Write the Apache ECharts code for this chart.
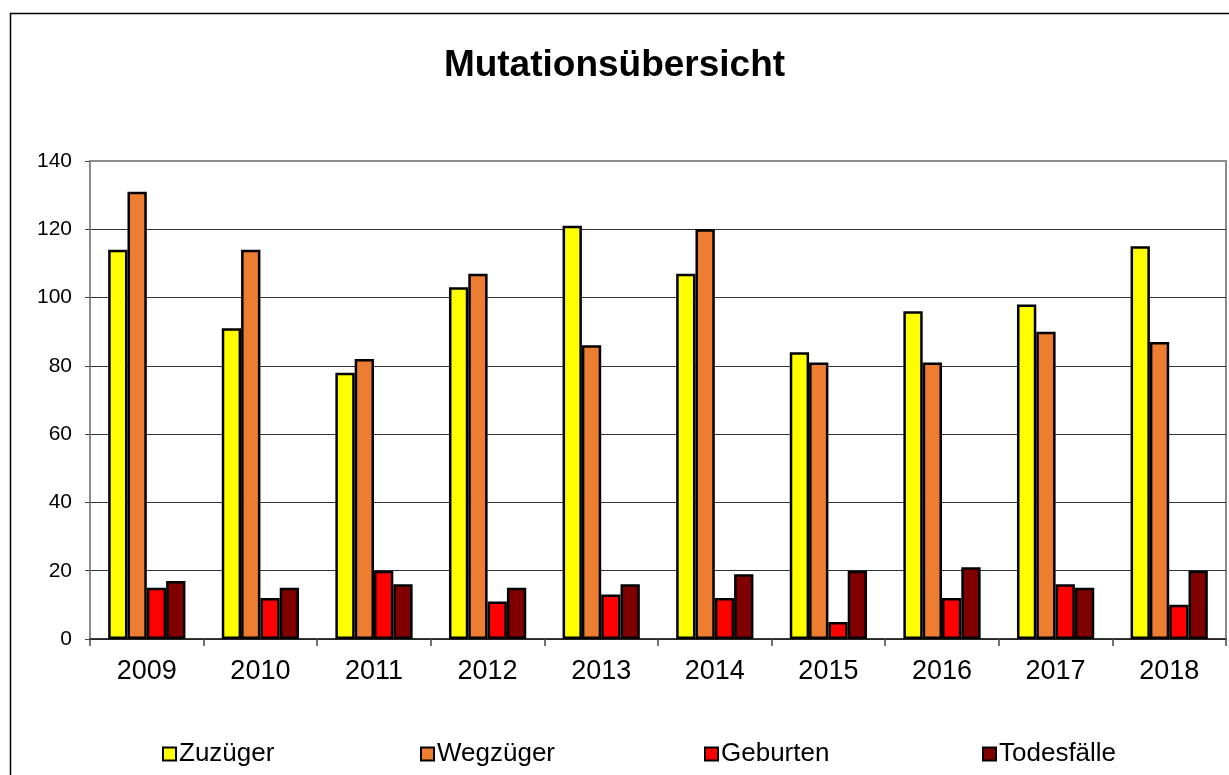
<!DOCTYPE html>
<html>
<head>
<meta charset="utf-8">
<script src="https://cdn.jsdelivr.net/npm/echarts@6/dist/echarts.min.js"></script>
<style>html,body{margin:0;padding:0;background:#fff;}#c{width:1229px;height:775px;}</style>
</head>
<body>
<div id="c"></div>
<script>
const years = ['2009','2010','2011','2012','2013','2014','2015','2016','2017','2018'];
const zuzueger = [114, 91, 78, 103, 121, 107, 84, 96, 98, 115];
const wegzueger = [131, 114, 82, 107, 86, 120, 81, 81, 90, 87];
const geburten = [15, 12, 20, 11, 13, 12, 5, 12, 16, 10];
const todesfaelle = [17, 15, 16, 15, 16, 19, 20, 21, 15, 20];
const seriesNames = ['Zuzüger', 'Wegzüger', 'Geburten', 'Todesfälle'];
const seriesColors = ['#FFFF00', '#ED7D31', '#FF0000', '#800000'];
const seriesData = [zuzueger, wegzueger, geburten, todesfaelle];
const legendLefts = [157, 415, 699, 977];

const font = '"Liberation Sans", Arial, sans-serif';
const chart = echarts.init(document.getElementById('c'), null, {renderer: 'canvas'});

const legends = seriesNames.map((n, i) => ({
  data: [n],
  left: legendLefts[i],
  top: 736,
  orient: 'horizontal',
  itemWidth: 13,
  itemHeight: 13,
  itemGap: 6,
  icon: 'rect',
  textStyle: {fontFamily: font, fontSize: 26, color: '#000', padding: [0, 0, 0, -2]},
  itemStyle: {borderColor: '#000', borderWidth: 2}
}));

chart.setOption({
  animation: false,
  backgroundColor: '#fff',
  textStyle: {fontFamily: font},
  title: {
    text: 'Mutationsübersicht',
    left: 'center',
    top: 42,
    textStyle: {fontFamily: font, fontSize: 37, fontWeight: 'bold', color: '#000'}
  },
  graphic: [{
    type: 'rect',
    shape: {x: 10.5, y: 13.5, width: 1250, height: 800},
    style: {fill: null, stroke: '#000', lineWidth: 1.5},
    silent: true,
    z: -10
  }],
  legend: legends,
  grid: {
    left: 90, right: 3, top: 161, bottom: 136,
    show: true, borderColor: '#8c8c8c', borderWidth: 2, backgroundColor: 'transparent'
  },
  xAxis: {
    type: 'category',
    data: years,
    axisLine: {lineStyle: {color: '#222', width: 1.5}},
    axisTick: {show: true, length: 7, lineStyle: {color: '#444', width: 1.5}},
    axisLabel: {fontFamily: font, fontSize: 27, color: '#000', margin: 19}
  },
  yAxis: {
    type: 'value',
    min: 0, max: 140, interval: 20,
    axisLine: {show: true, lineStyle: {color: '#8c8c8c', width: 2}},
    axisTick: {show: true, length: 5, lineStyle: {color: '#444'}},
    axisLabel: {fontFamily: font, fontSize: 21, color: '#000', margin: 18},
    splitLine: {show: true, showMaxLine: false, lineStyle: {color: '#333', width: 1}}
  },
  series: seriesNames.map((n, i) => ({
    name: n,
    type: 'bar',
    data: seriesData[i],
    barGap: '0%',
    barCategoryGap: '32%',
    itemStyle: {color: seriesColors[i], borderColor: '#000', borderWidth: 2.5}
  }))
});
</script>
</body>
</html>
